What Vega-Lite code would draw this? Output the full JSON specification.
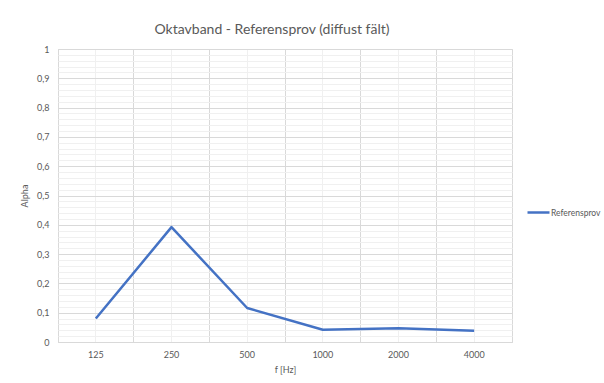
{
  "$schema": "https://vega.github.io/schema/vega-lite/v6.json",
  "width": 454,
  "height": 293,
  "autosize": {"type": "none"},
  "padding": {"left": 58, "top": 49, "right": 92, "bottom": 41},
  "background": "white",
  "config": {
    "font": "Lato",
    "view": {"stroke": "#d9d9d9", "strokeWidth": 1},
    "axis": {"labelColor": "#595959", "titleColor": "#595959", "labelFont": "Lato", "titleFont": "Lato", "labelFontSize": 9, "titleFontSize": 9, "titleFontWeight": "normal"}
  },
  "title": {
    "text": "Oktavband - Referensprov (diffust fält)",
    "fontSize": 14,
    "fontWeight": "normal",
    "color": "#595959",
    "font": "Lato",
    "anchor": "middle",
    "frame": "group",
    "baseline": "alphabetic",
    "offset": 13,
    "dx": -13,
    "dy": 16
  },
  "data": {
    "values": [
      {"f": "125", "alpha": 0.08, "series": "Referensprov"},
      {"f": "250", "alpha": 0.392, "series": "Referensprov"},
      {"f": "500", "alpha": 0.116, "series": "Referensprov"},
      {"f": "1000", "alpha": 0.042, "series": "Referensprov"},
      {"f": "2000", "alpha": 0.047, "series": "Referensprov"},
      {"f": "4000", "alpha": 0.038, "series": "Referensprov"}
    ]
  },
  "layer": [
    {
      "mark": {"type": "line", "strokeOpacity": 0},
      "encoding": {
        "x": {
          "field": "f", "type": "ordinal", "sort": null,
          "scale": {"type": "band", "paddingInner": 0, "paddingOuter": 0},
          "axis": {"orient": "bottom", "bandPosition": 0, "grid": true, "gridColor": "#d9d9d9", "labels": false, "ticks": false, "domain": false, "title": null}
        },
        "y": {
          "field": "alpha", "type": "quantitative",
          "scale": {"domain": [0, 1], "nice": false, "zero": true},
          "axis": {"orient": "left", "values": [0.02,0.04,0.06,0.08,0.12,0.14,0.16,0.18,0.22,0.24,0.26,0.28,0.32,0.34,0.36,0.38,0.42,0.44,0.46,0.48,0.52,0.54,0.56,0.58,0.62,0.64,0.66,0.68,0.72,0.74,0.76,0.78,0.82,0.84,0.86,0.88,0.92,0.94,0.96,0.98], "grid": true, "gridColor": "#f0f0f0", "labels": false, "ticks": false, "domain": false, "title": null}
        }
      }
    },
    {
      "mark": {"type": "line", "strokeWidth": 2.5, "strokeJoin": "round"},
      "encoding": {
        "x": {
          "field": "f", "type": "ordinal", "sort": null,
          "scale": {"type": "band", "paddingInner": 0, "paddingOuter": 0},
          "axis": {"orient": "bottom", "bandPosition": 0.5, "grid": true, "gridColor": "#f0f0f0", "ticks": false, "domain": true, "domainColor": "#d9d9d9", "labelAngle": 0, "labelPadding": 8, "title": "f [Hz]", "titlePadding": 6}
        },
        "y": {
          "field": "alpha", "type": "quantitative",
          "scale": {"domain": [0, 1], "nice": false, "zero": true},
          "axis": {"orient": "left", "values": [0,0.1,0.2,0.3,0.4,0.5,0.6,0.7,0.8,0.9,1], "format": ".1~f", "labelExpr": "replace(datum.label, '.', ',')", "grid": true, "gridColor": "#d9d9d9", "ticks": false, "domain": false, "labelPadding": 9, "title": "Alpha", "titlePadding": 7}
        },
        "color": {
          "field": "series", "type": "nominal",
          "scale": {"range": ["#4472C4"]},
          "legend": {"title": null, "orient": "none", "legendX": 468, "legendY": 151, "symbolType": "stroke", "symbolSize": 484, "symbolStrokeWidth": 2.5, "labelFontSize": 8.5, "labelColor": "#595959", "labelFont": "Lato", "labelOffset": 0}
        }
      }
    }
  ],
  "resolve": {"axis": {"x": "independent", "y": "independent"}}
}
